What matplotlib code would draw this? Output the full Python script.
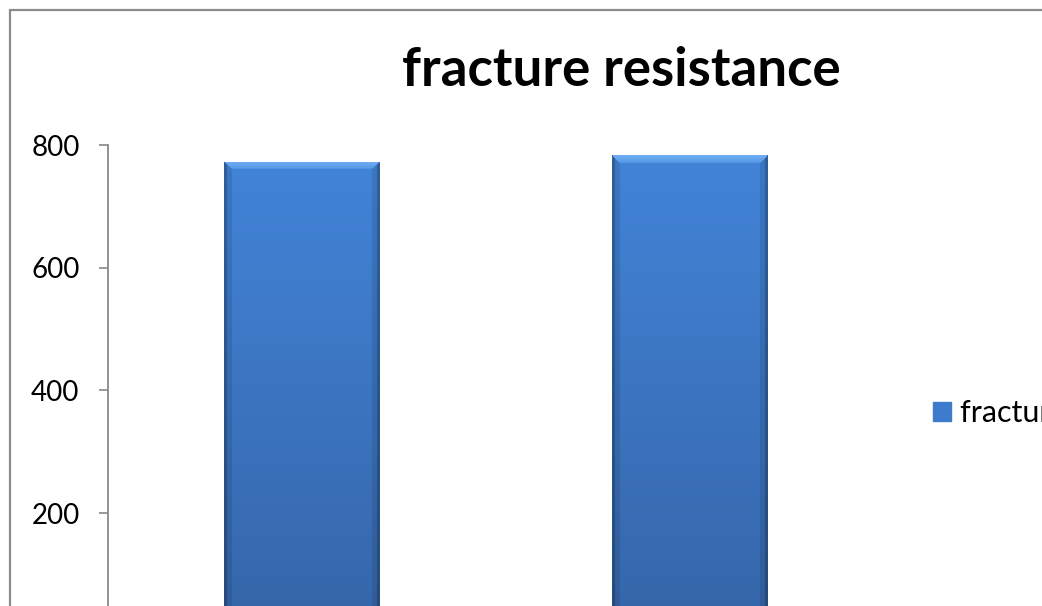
import matplotlib
matplotlib.use("Agg")
import matplotlib.pyplot as plt
import matplotlib.patches as mpatches
import numpy as np

# data
categories = ["1", "2"]
fracture_resistance = [773, 784]
yticks = [200, 400, 600, 800]
series_name = "fracture resistance"

plt.rcParams['font.family'] = ['Lato', 'DejaVu Sans']

W, H = 1042, 606
fig = plt.figure(figsize=(W / 100, H / 100), dpi=100)
ax = fig.add_axes([108 / W, 0, (884 - 108) / W, (606 - 145) / H])

x = np.arange(len(categories))
bars = ax.bar(x, fracture_resistance, width=0.4, color="#3f7bcc", zorder=2,
              label=series_name)

ax.set_xlim(-0.5, len(categories) - 0.5)
ax.set_ylim(48.4, 800)

# gradient / bevel look on each bar
top_c = np.array([66, 132, 216]) / 255
bot_c = np.array([53, 101, 168]) / 255
light_c = np.array([110, 175, 245]) / 255
px_per_unit = (606 - 145) / (800 - 48.4)
for b in bars:
    x0, w, h = b.get_x(), b.get_width(), b.get_height()
    nrow, ncol = 500, 156
    t = np.linspace(0, 1, nrow)[:, None, None]
    img = top_c * (1 - t) + bot_c * t
    img = np.repeat(img, ncol, axis=1)
    xs = np.arange(ncol)
    d = np.minimum(xs, ncol - 1 - xs)
    shade = np.where(d < 3, 0.72, np.where(d < 8, 0.9, 1.0))
    img = img * shade[None, :, None]
    depth = np.linspace(0, h * px_per_unit, nrow)
    for r in range(nrow):
        if depth[r] < 7:
            m = d > depth[r]
            img[r, m] = light_c * (1 - depth[r] / 14) + top_c * (depth[r] / 14)
    im = ax.imshow(np.clip(img, 0, 1), extent=[x0, x0 + w, 0, h], origin='upper',
                   aspect='auto', zorder=3, interpolation='bilinear')
    im.set_clip_path(b)

ax.set_xticks(x)
ax.set_xticklabels(categories)
ax.set_yticks(yticks)
ax.tick_params(axis='y', labelsize=20, length=6.5, width=1.2, color="#888888",
               pad=14, labelcolor="black")
ax.tick_params(axis='x', length=0, labelbottom=False)
for s in ["top", "right", "bottom"]:
    ax.spines[s].set_visible(False)
ax.spines["left"].set_color("#888888")
ax.spines["left"].set_linewidth(1.3)

fig.text(621 / W, 1 - 70 / H, "fracture resistance", ha='center', va='center',
         fontsize=38, fontweight='bold')

fig.legend(handles=[mpatches.Patch(color="#3f7bcc", label=series_name)],
           loc='center left', bbox_to_anchor=(933 / W, 1 - 413 / H),
           frameon=False, fontsize=22, handlelength=0.6, handleheight=0.6,
           handletextpad=0.3, borderaxespad=0, borderpad=0)

border = mpatches.Rectangle((10 / W, -0.1), 1.2, 1.1 - 10 / H, transform=fig.transFigure,
                            fill=False, edgecolor="#8c8c8c", linewidth=1.6)
fig.add_artist(border)

fig.savefig("out.png", dpi=100)
